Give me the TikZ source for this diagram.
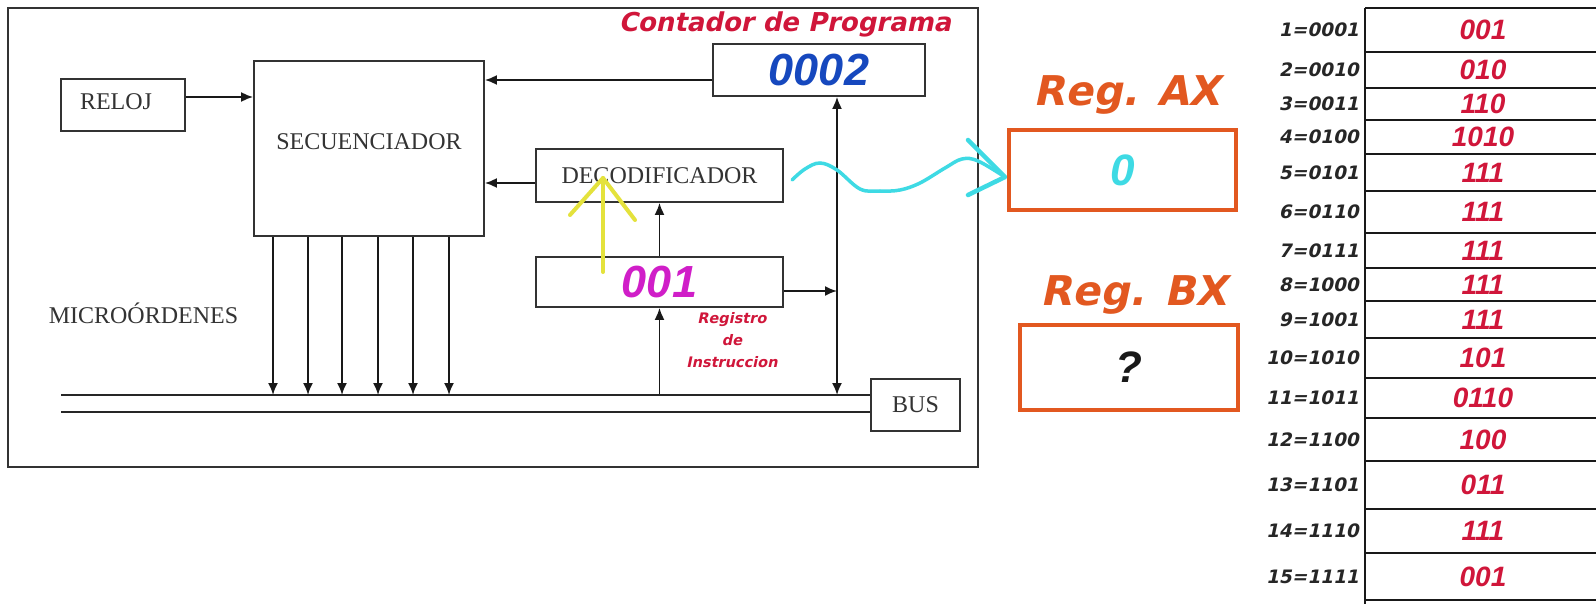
\documentclass[tikz,border=0pt]{standalone}
\usepackage{fontspec}
\setmainfont{Liberation Serif}
\newfontfamily\wideface{DejaVu Sans Bold}[FakeSlant=0.21]
\newfontfamily\armface{Liberation Sans}
\usetikzlibrary{arrows.meta}
\definecolor{progred}{RGB}{208,22,58}
\definecolor{pcblue}{RGB}{22,72,190}
\definecolor{irmag}{RGB}{208,30,200}
\definecolor{regorange}{RGB}{226,88,32}
\definecolor{axcyan}{RGB}{62,218,228}
\definecolor{penyellow}{RGB}{228,226,60}
\tikzset{
  blk/.style={draw=black!80, line width=1.8pt, fill=white, inner sep=0pt,
    font=\fontsize{24}{24}\selectfont, text=black!80},
  serif/.style={font=\fontsize{24}{24}\selectfont, text=black!80},
  conn/.style={line width=1.8pt, black!90},
  busline/.style={line width=2pt, black!85},
  bignum/.style={font=\armface\bfseries\itshape\fontsize{45}{45}\selectfont},
  lab/.style={font=\wideface\fontsize{26}{26}\selectfont, text=progred},
  reglab/.style={font=\wideface\fontsize{41}{41}\selectfont, text=regorange},
  regbox/.style={draw=regorange, line width=4pt, inner sep=0pt,
    font=\armface\bfseries\itshape\fontsize{44}{44}\selectfont},
  tabline/.style={line width=2.6pt, black!90},
  addr/.style={font=\wideface\fontsize{18.5}{18.5}\selectfont, text=black!85, inner sep=0pt},
  cellval/.style={font=\armface\bfseries\itshape\fontsize{28}{28}\selectfont, text=progred, inner sep=0pt}
}
\begin{document}
\begin{tikzpicture}[x=1pt, y=-1pt, >={Latex[length=12pt,width=10pt]}]
\useasboundingbox (0,0) rectangle (1596,604);
\fill[white] (0,0) rectangle (1596,604);
% unidad de control
\draw[line width=2pt, black!80] (8,8) rectangle (978,467);
\node[blk, minimum width=124pt, minimum height=52pt,
  label={[serif, xshift=-7pt, yshift=3pt]center:RELOJ}] (reloj) at (123,105) {};
\node[blk, minimum width=230pt, minimum height=175pt,
  label={[serif, yshift=7pt]center:SECUENCIADOR}] (secuen) at (369,148.5) {};
\node[blk, bignum, text=pcblue, minimum width=212pt, minimum height=52pt] (pc) at (819,70) {0002};
\node[blk, minimum width=247pt, minimum height=53pt] (decod) at (659.5,175.5) {DECODIFICADOR};
\node[blk, bignum, text=irmag, minimum width=247pt, minimum height=50pt] (ir) at (659.5,282) {001};
\node[blk, minimum width=89pt, minimum height=52pt] (bus) at (915.5,405) {BUS};
\node[serif] (micro) at (143.5,313) {MICROÓRDENES};
\node[lab] (pclab) at (785,24) {Contador de Programa};
\node[lab, align=center, font=\wideface\fontsize{14.5}{22}\selectfont] (irlab) at (732,340) {Registro\\de\\Instruccion};
\coordinate (bus1) at (61,395);
\coordinate (bus2) at (61,412);
\coordinate (vbus) at (837,395);
% conexiones
\draw[conn,->] ([yshift=8pt]reloj.east) -- ([yshift=8pt]reloj.east -| secuen.west);
\draw[conn,->] ([yshift=-10pt]pc.west) -- ([yshift=-10pt]pc.west -| secuen.east);
\draw[conn,->] ([yshift=-7.5pt]decod.west) -- ([yshift=-7.5pt]decod.west -| secuen.east);
\draw[conn,->] (ir.north) -- (decod.south);
\draw[conn,->] (ir.south |- bus1) -- (ir.south);
\draw[conn,->] ([yshift=-9pt]ir.east) -- ([yshift=-9pt]ir.east -| vbus);
\draw[conn,<->] (pc.south -| vbus) -- (vbus);
\draw[busline] (bus1) -- (bus1 -| bus.west);
\draw[busline] (bus2) -- (bus2 -| bus.west);
\foreach \x in {273,308,342,378,413,449}
  \draw[conn,->] (secuen.south -| \x,0) -- (bus1 -| \x,0);
% trazos a mano
\draw[penyellow, line width=4pt, line cap=round] (603,272) -- (603,178);
\draw[penyellow, line width=4pt, line cap=round, line join=round] (570,215) -- (603,178) -- (635,220);
\draw[axcyan, line width=3.5pt, line cap=round] plot[smooth, tension=0.6] coordinates
  {(792,180) (805,169) (820,163) (837,170) (860,189) (880,191) (900,190) (920,183) (945,168) (962,159) (978,161) (1005,177)};
\draw[axcyan, line width=4.5pt, line cap=round, line join=round] (968,140) -- (1005,177) -- (968,195);
% registros
\node[regbox, text=axcyan, minimum width=227pt, minimum height=80pt] (regax) at (1122.5,170) {0};
\node[reglab] (axlab) at (1127,95) {Reg. AX};
\node[regbox, text=black!90, minimum width=218pt, minimum height=85pt] (regbx) at (1129,367.5) {?};
\node[reglab] (bxlab) at (1134,295) {Reg. BX};
% memoria
\draw[tabline] (1365,8) -- (1600,8);
\draw[tabline] (1365,8) -- (1365,604);
\foreach \n/\bin/\ya/\yb/\v in {1/0001/8/52/001, 2/0010/52/88/010, 3/0011/88/120/110,
  4/0100/120/154/1010, 5/0101/154/191/111, 6/0110/191/233/111, 7/0111/233/268/111,
  8/1000/268/301/111, 9/1001/301/338/111, 10/1010/338/378/101, 11/1011/378/418/0110,
  12/1100/418/461/100, 13/1101/461/509/011, 14/1110/509/553/111, 15/1111/553/600/001}
{
  \draw[tabline] (1365,\yb) -- (1600,\yb);
  \node[addr, anchor=east] (dir\n) at (1359,{(\ya+\yb)/2}) {\n=\bin};
  \node[cellval] (mem\n) at (1483,{(\ya+\yb)/2}) {\v};
}
\end{tikzpicture}
\end{document}
